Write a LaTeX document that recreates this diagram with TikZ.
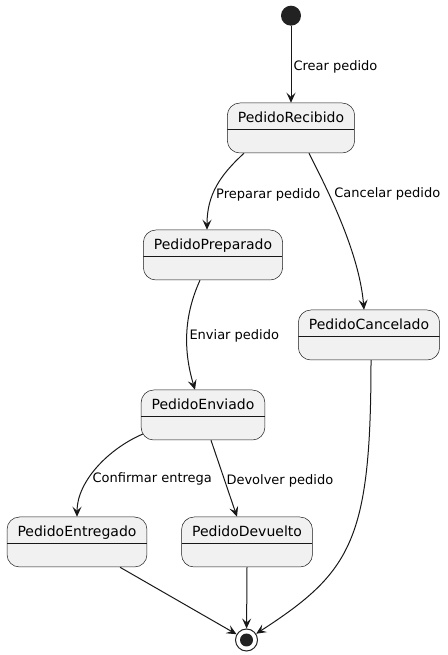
\documentclass[tikz,border=0pt]{standalone}
\usepackage{fontspec}
\setmainfont{DejaVu Sans}
\usepackage{tikz}
\usetikzlibrary{arrows.meta}
\definecolor{lineColor}{HTML}{181818}
\definecolor{boxFill}{HTML}{F1F1F1}
\definecolor{dotColor}{HTML}{222222}
\tikzset{
    st_node/.style={
        draw=lineColor,
        line width=0.5pt,
        fill=boxFill,
        rounded corners=12.5pt,
        inner xsep=10.5pt,
        inner ysep=0pt,
        text height=20pt,
        text depth=30pt,
        font=\fontsize{14}{16}\selectfont,
        path picture={
            \draw[lineColor, line width=0.5pt]
            ([yshift=-26pt]path picture bounding box.north west) --
            ([yshift=-26pt]path picture bounding box.north east);
        }
    },
    st_start/.style={
        circle,
        fill=dotColor,
        minimum size=20pt,
        inner sep=0pt
    },
    st_end/.style={
        circle,
        draw=dotColor,
        line width=1pt,
        minimum size=22pt,
        inner sep=0pt,
        path picture={\fill[dotColor] (path picture bounding box.center) circle (6.5pt);}
    },
    st_edge/.style={
        -{Stealth[length=10pt,width=9pt,inset=4pt]},
        line width=1pt,
        draw=lineColor
    },
    st_label/.style={
        anchor=west,
        inner sep=2pt,
        yshift=-2.5pt,
        font=\fontsize{13}{15}\selectfont
    }
}
\begin{document}
\begin{tikzpicture}[x=1pt, y=1pt]
    \useasboundingbox (0,0) rectangle (447,655);

    \node[st_start] (start) at (291,639.3) {};
    \node[st_node] (rec) at (291,527) {PedidoRecibido};
    \node[st_node] (prep) at (213,400) {PedidoPreparado};
    \node[st_node] (canc) at (369,320) {PedidoCancelado};
    \node[st_node] (env) at (203,240) {PedidoEnviado};
    \node[st_node] (entr) at (77,113) {PedidoEntregado};
    \node[st_node] (dev) at (247,113) {PedidoDevuelto};
    \node[st_end] (fin) at (246.5,15) {};

    \draw[st_edge] (start) -- node[st_label, pos=0.5] {Crear pedido} (rec);
    \draw[st_edge] ([xshift=-47pt]rec.south)
        .. controls +(-24,-22) and +(0,35) ..
        node[st_label, pos=0.58] {Preparar pedido} ([xshift=-6pt]prep.north);
    \draw[st_edge] ([xshift=18pt]rec.south)
        .. controls +(15,-30) and +(-5,60) ..
        node[st_label, pos=0.32, xshift=4pt] {Cancelar pedido} ([xshift=-5pt]canc.north);
    \draw[st_edge] ([xshift=-13pt]prep.south)
        .. controls +(-16,-35) and +(-12,40) ..
        node[st_label, pos=0.5] {Enviar pedido} ([xshift=-8pt]env.north);
    \draw[st_edge] ([xshift=2pt, yshift=-19pt]env.west)
        .. controls +(-35,-15) and +(0,35) ..
        node[st_label, pos=0.6] {Confirmar entrega} (entr.north);
    \draw[st_edge] ([xshift=8pt]env.south) --
        node[st_label, pos=0.5] {Devolver pedido} ([xshift=-10pt]dev.north);
    \draw[st_edge] ([xshift=43pt]entr.south) -- (fin);
    \draw[st_edge] (dev.south) -- (fin);
    \draw[st_edge] ([xshift=2pt]canc.south)
        .. controls +(0,-180) and +(105,68) .. (fin);
\end{tikzpicture}
\end{document}
